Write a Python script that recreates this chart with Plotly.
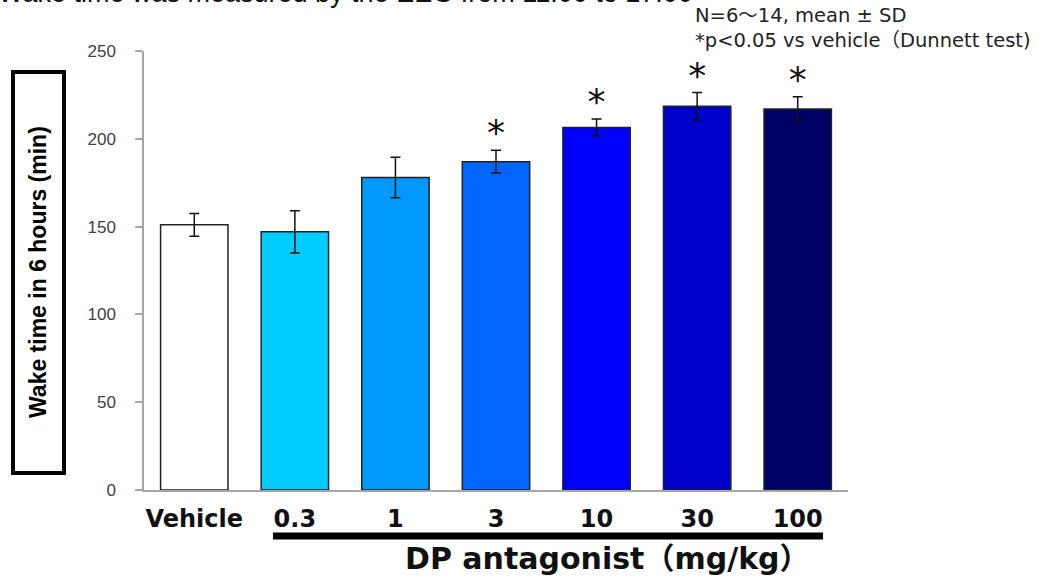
import plotly.graph_objects as go

categories = ["Vehicle", "0.3", "1", "3", "10", "30", "100"]
means = [151, 147, 178, 187, 206.5, 218.5, 217]
sds = [6.5, 12, 11.5, 6.5, 4.8, 7.8, 7]
significant = [False, False, False, True, True, True, True]
bar_colors = ["#FFFFFF", "#00CCFF", "#0099FF", "#0066FF", "#0000FF", "#0000CC", "#000066"]
y_ticks = [0, 50, 100, 150, 200, 250]

STAR_GAP = 8  # data units above error bar top

W, H = 1042, 577
L, R, T, B = 144, 194, 51, 87
pw, ph = W - L - R, H - T - B

def px_x(p):
    return (p - L) / pw

def px_y(p):
    return (H - B - p) / ph

fig = go.Figure()
fig.add_trace(go.Bar(
    x=categories, y=means,
    marker=dict(color=bar_colors, line=dict(color="#222222", width=1.5)),
    width=0.67,
    error_y=dict(type="data", array=sds, visible=True, color="#111111",
                 thickness=1.5, width=5),
    showlegend=False, hoverinfo="skip",
))

star_x = [c for c, s in zip(categories, significant) if s]
star_y = [m + s + STAR_GAP for m, s, sig in zip(means, sds, significant) if sig]
fig.add_trace(go.Scatter(
    x=star_x, y=star_y, mode="text", text=["*"] * len(star_x),
    textposition="middle center",
    textfont=dict(family="DejaVu Sans", size=36, color="#111111"),
    showlegend=False, hoverinfo="skip",
))

fig.update_layout(
    width=W, height=H,
    margin=dict(l=L, r=R, t=T, b=B, pad=0),
    paper_bgcolor="white", plot_bgcolor="white",
    bargap=0.33,
    xaxis=dict(
        type="category", categoryorder="array", categoryarray=categories,
        showline=True, linecolor="#A6A6A6", linewidth=1.5,
        ticks="", showgrid=False, zeroline=False,
        tickvals=categories,
        ticktext=[f"<b>{c}</b>" for c in categories],
        tickfont=dict(family="DejaVu Sans", size=24, color="#111111"),
        ticklabelstandoff=6,
    ),
    yaxis=dict(
        range=[0, 250], tickvals=y_ticks,
        showline=True, linecolor="#A6A6A6", linewidth=1.5,
        ticks="outside", ticklen=7, tickcolor="#A6A6A6", tickwidth=1.5,
        showgrid=False, zeroline=False,
        tickfont=dict(family="Liberation Sans", size=17, color="#404040"),
        ticklabelstandoff=16,
    ),
    shapes=[
        dict(type="rect", xref="paper", yref="paper",
             x0=px_x(13), x1=px_x(64), y0=px_y(473), y1=px_y(72),
             line=dict(color="black", width=4), fillcolor="rgba(0,0,0,0)"),
        dict(type="line", xref="paper", yref="paper",
             x0=px_x(273), x1=px_x(823), y0=px_y(536), y1=px_y(536),
             line=dict(color="black", width=7)),
    ],
    annotations=[
        dict(text="<b>Wake time in 6 hours (min)</b>", textangle=-90,
             xref="paper", yref="paper", x=px_x(38), y=px_y(272),
             xanchor="center", yanchor="middle", showarrow=False,
             font=dict(family="Liberation Sans", size=23, color="black")),
        dict(text="<b>DP antagonist（mg/kg）</b>",
             xref="paper", yref="paper", x=px_x(607), y=px_y(558),
             xanchor="center", yanchor="middle", showarrow=False,
             font=dict(family="DejaVu Sans, Noto Sans CJK JP", size=30, color="#111111")),
        dict(text="N=6～14, mean ± SD<br>*p<0.05 vs vehicle（Dunnett test)",
             xref="paper", yref="paper", x=px_x(693), y=px_y(2),
             xanchor="left", yanchor="top", align="left", showarrow=False,
             font=dict(family="DejaVu Sans, Noto Sans CJK JP", size=19.5, color="#222222")),
        dict(text="Wake time was measured by the EEG from 11:00 to 17:00",
             xref="paper", yref="paper", x=px_x(-4), y=px_y(10.5),
             xanchor="left", yanchor="bottom", showarrow=False,
             font=dict(family="Liberation Sans", size=27, color="#111111")),
    ],
)

fig.write_html("out.html",
               config={"displayModeBar": False},
               post_script="document.body.style.margin='0';document.body.style.padding='0';")
